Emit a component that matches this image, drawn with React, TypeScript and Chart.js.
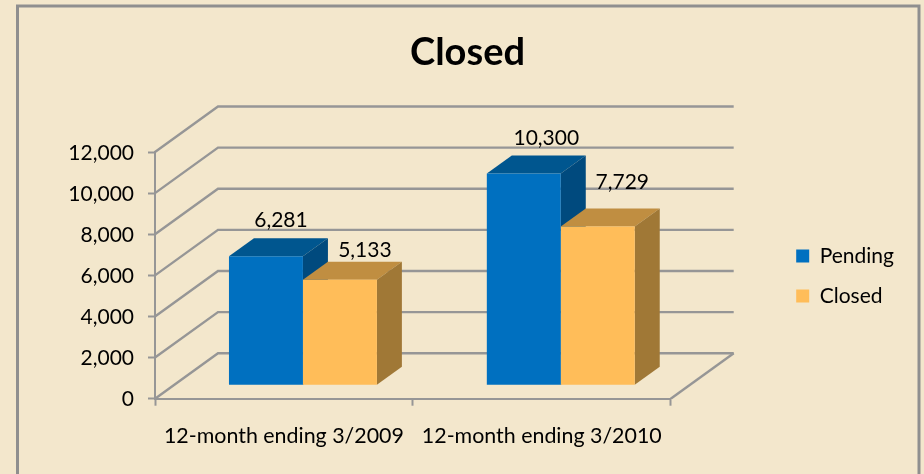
import React, { useEffect, useRef } from "react";
import { Chart, registerables } from "chart.js";

Chart.register(...registerables);

const categories = ["12-month ending 3/2009", "12-month ending 3/2010"];
const pendingValues = [6281, 10300];
const closedValues = [5133, 7729];
const seriesNames = ["Pending", "Closed"];
const titleText = "Closed";

const FONT = "Lato, Carlito, Calibri, sans-serif";
const BG = "#f3e7cc";
const LINE = "#969696";
const WALL = { dx: 63, dy: -45.5 };
const BAR_SHIFT = { dx: 19, dy: -13.4 };
const BAR_DEPTH = { dx: 25, dy: -18 };
const FRONT = ["#0070c0", "#ffbd59"];
const TOP = ["#00568f", "#c08e41"];
const SIDE = ["#004a7e", "#a07836"];
// nudges of value labels relative to each bar's top centre: [dataset][category]
const LABEL_NUDGE = [
  [[15, -36], [22.5, -35.5]],
  [[25, -30], [24.5, -44]],
];

const poly = (ctx: CanvasRenderingContext2D, pts: number[][], fill: string) => {
  ctx.beginPath();
  pts.forEach((p, i) => (i ? ctx.lineTo(p[0], p[1]) : ctx.moveTo(p[0], p[1])));
  ctx.closePath();
  ctx.fillStyle = fill;
  ctx.fill();
};

const scene = {
  id: "scene",
  afterLayout(chart: any) {
    chart.legend.left += 106.5;
    chart.legend.right += 106.5;
    chart.legend.top += 39;
    chart.legend.bottom += 39;
    chart.titleBlock.left = 11;
    chart.titleBlock.right = 924;
  },
  beforeDraw(chart: any) {
    const { ctx, width, height } = chart;
    ctx.save();
    ctx.fillStyle = BG;
    ctx.fillRect(0, 0, width, height);
    ctx.strokeStyle = "#8f8f8f";
    ctx.lineWidth = 3;
    ctx.beginPath();
    ctx.moveTo(17.5, height + 4);
    ctx.lineTo(17.5, 6);
    ctx.lineTo(919, 6);
    ctx.lineTo(919, height + 4);
    ctx.stroke();
    ctx.restore();
  },
  beforeDatasetsDraw(chart: any) {
    const { ctx, scales } = chart;
    const { left, right, bottom } = chart.chartArea;
    ctx.save();
    ctx.strokeStyle = LINE;
    ctx.lineWidth = 2.4;
    scales.y.ticks.forEach((t: any) => {
      const y = scales.y.getPixelForValue(t.value);
      ctx.beginPath();
      ctx.moveTo(left, y);
      ctx.lineTo(left + WALL.dx, y + WALL.dy);
      ctx.lineTo(right + WALL.dx, y + WALL.dy);
      ctx.stroke();
    });
    ctx.beginPath();
    ctx.moveTo(right, bottom);
    ctx.lineTo(right + WALL.dx, bottom + WALL.dy);
    ctx.stroke();

    [0, 1].forEach((di) => {
      chart.getDatasetMeta(di).data.forEach((el: any) => {
        const { x, y, base, width } = el.getProps(["x", "y", "base", "width"], true);
        const x1 = x - width / 2 + BAR_SHIFT.dx;
        const x2 = x + width / 2 + BAR_SHIFT.dx;
        const yT = y + BAR_SHIFT.dy;
        const yB = base + BAR_SHIFT.dy;
        const { dx, dy } = BAR_DEPTH;
        poly(ctx, [[x1, yT], [x2, yT], [x2 + dx, yT + dy], [x1 + dx, yT + dy]], TOP[di]);
        poly(ctx, [[x2, yT], [x2 + dx, yT + dy], [x2 + dx, yB + dy], [x2, yB]], SIDE[di]);
      });
    });
    ctx.restore();
  },
  beforeDatasetDraw(chart: any) {
    chart.ctx.save();
    chart.ctx.translate(BAR_SHIFT.dx, BAR_SHIFT.dy);
  },
  afterDatasetDraw(chart: any) {
    chart.ctx.restore();
  },
  afterDatasetsDraw(chart: any) {
    const { ctx } = chart;
    ctx.save();
    ctx.font = `21px ${FONT}`;
    ctx.fillStyle = "#000";
    ctx.textAlign = "center";
    ctx.textBaseline = "middle";
    [0, 1].forEach((di) => {
      chart.getDatasetMeta(di).data.forEach((el: any, i: number) => {
        const { x, y } = el.getProps(["x", "y"], true);
        const v = chart.data.datasets[di].data[i] as number;
        const [nx, ny] = LABEL_NUDGE[di][i];
        ctx.fillText(v.toLocaleString("en-US"), x + BAR_SHIFT.dx + nx, y + BAR_SHIFT.dy + ny);
      });
    });
    ctx.restore();
  },
};

export default function App() {
  const ref = useRef<HTMLCanvasElement>(null);
  useEffect(() => {
    document.body.style.margin = "0";
    document.body.style.background = BG;
    const chart = new Chart(ref.current!, {
      type: "bar",
      data: {
        labels: categories,
        datasets: [
          { label: seriesNames[0], data: pendingValues, backgroundColor: FRONT[0] },
          { label: seriesNames[1], data: closedValues, backgroundColor: FRONT[1] },
        ],
      },
      plugins: [scene],
      options: {
        responsive: false,
        animation: false,
        layout: { padding: { left: 0, right: 126.5, top: 0, bottom: 0 } },
        datasets: { bar: { categoryPercentage: 148 / 258, barPercentage: 1 } },
        plugins: {
          tooltip: { enabled: false },
          title: {
            display: true,
            text: titleText,
            color: "#000",
            font: { family: FONT, size: 38, weight: "bold" },
            padding: { top: 30, bottom: 76.4 },
          },
          legend: {
            position: "right",
            labels: {
              color: "#000",
              font: { family: FONT, size: 21 },
              boxWidth: 13,
              boxHeight: 13,
              padding: 19,
            },
          },
        },
        scales: {
          x: {
            afterFit: (s: any) => { s.height = 75.3; },
            grid: { drawOnChartArea: false, tickLength: 7, tickColor: LINE, tickWidth: 2 },
            border: { color: LINE, width: 2 },
            ticks: { color: "#000", font: { family: FONT, size: 21.4 }, padding: 18, maxRotation: 0, autoSkip: false },
          },
          y: {
            min: 0,
            max: 12000,
            afterFit: (s: any) => { s.width = 155; },
            grid: { drawOnChartArea: false, tickLength: 7, tickColor: LINE, tickWidth: 2 },
            border: { color: LINE, width: 2 },
            ticks: {
              stepSize: 2000,
              color: "#000",
              font: { family: FONT, size: 21 },
              padding: 14,
              labelOffset: 1,
              callback: (v: any) => Number(v).toLocaleString("en-US"),
            },
          },
        },
      },
    } as any);
    return () => chart.destroy();
  }, []);
  return <canvas ref={ref} width={924} height={474} style={{ display: "block" }} />;
}
